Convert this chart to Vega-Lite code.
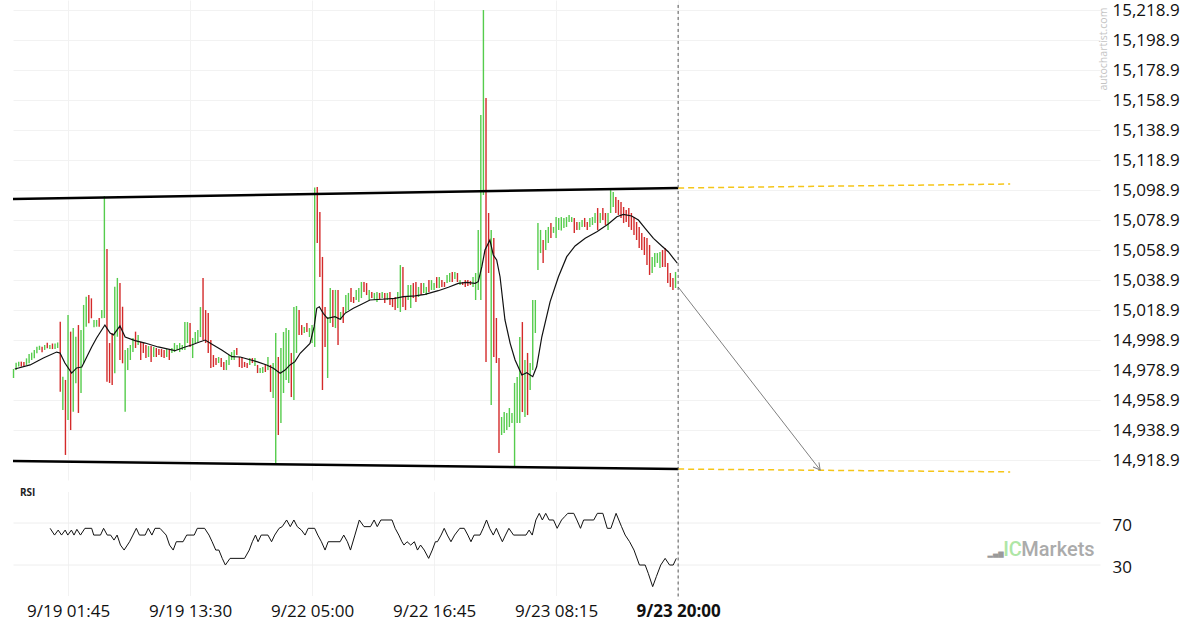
{
 "$schema": "https://vega.github.io/schema/vega-lite/v6.json",
 "padding": {"left": 8, "top": 0, "right": 0, "bottom": 0},
 "background": "white",
 "spacing": 11.5,
 "bounds": "flush",
 "config": {"view": {"stroke": null}, "font": "Open Sans", "axis": {"labelOverlap": false}},
 "datasets": {
  "bars": [
{"i":0,"h":14979.6,"l":14973.6,"d":"u"},{"i":1,"h":14983.8,"l":14978.9,"d":"u"},{"i":2,"h":14984.5,"l":14981.2,"d":"u"},{"i":3,"h":14984.5,"l":14981.2,"d":"d"},{"i":4,"h":14984.3,"l":14981.6,"d":"d"},{"i":5,"h":14986.7,"l":14982.3,"d":"u"},{"i":6,"h":14989.6,"l":14983.4,"d":"u"},{"i":7,"h":14990.5,"l":14985.6,"d":"u"},{"i":8,"h":14992.3,"l":14986.7,"d":"u"},{"i":9,"h":14994.5,"l":14990.1,"d":"u"},
{"i":10,"h":14995.1,"l":14992.3,"d":"u"},{"i":11,"h":14994.5,"l":14990.7,"d":"d"},{"i":12,"h":14995.6,"l":14992.3,"d":"u"},{"i":13,"h":14997.1,"l":14993.4,"d":"d"},{"i":14,"h":14995.6,"l":14992.9,"d":"u"},{"i":15,"h":14996.6,"l":14992.9,"d":"d"},{"i":16,"h":14996.6,"l":14992.9,"d":"u"},{"i":17,"h":14997.3,"l":14993.6,"d":"u"},{"i":18,"h":15011.1,"l":14964.5,"d":"d"},{"i":19,"h":14974.5,"l":14952.3,"d":"u"},
{"i":20,"h":14972.3,"l":14922.3,"d":"d"},{"i":21,"h":15015.6,"l":14945.6,"d":"u"},{"i":22,"h":15004.5,"l":14938.9,"d":"d"},{"i":23,"h":15006.9,"l":14951.1,"d":"u"},{"i":24,"h":15001.1,"l":14970.1,"d":"u"},{"i":25,"h":15008.9,"l":14950.3,"d":"d"},{"i":26,"h":15005.6,"l":14963.6,"d":"u"},{"i":27,"h":15022.3,"l":14983.4,"d":"u"},{"i":28,"h":15027.8,"l":15007.8,"d":"u"},{"i":29,"h":15028.9,"l":15010.1,"d":"d"},
{"i":30,"h":15026.7,"l":15013.4,"d":"d"},{"i":31,"h":15012.3,"l":15007.4,"d":"u"},{"i":32,"h":15012.3,"l":15007.8,"d":"u"},{"i":33,"h":15013.6,"l":15007.8,"d":"d"},{"i":34,"h":15018.9,"l":15013.4,"d":"u"},{"i":35,"h":15094.9,"l":15013.6,"d":"u"},{"i":36,"h":15059.6,"l":14971.1,"d":"d"},{"i":37,"h":14996.9,"l":14970.3,"d":"d"},{"i":38,"h":15003.6,"l":14968.9,"d":"d"},{"i":39,"h":15034.5,"l":14976.7,"d":"u"},
{"i":40,"h":15040.3,"l":15001.1,"d":"u"},{"i":41,"h":15036.9,"l":14985.6,"d":"d"},{"i":42,"h":15021.1,"l":14983.4,"d":"d"},{"i":43,"h":14992.3,"l":14951.1,"d":"u"},{"i":44,"h":14993.6,"l":14978.9,"d":"u"},{"i":45,"h":14995.6,"l":14985.6,"d":"u"},{"i":46,"h":15000.3,"l":14990.9,"d":"u"},{"i":47,"h":15004.5,"l":14993.6,"d":"d"},{"i":48,"h":15002.3,"l":14995.6,"d":"u"},{"i":49,"h":14997.8,"l":14985.6,"d":"d"},
{"i":50,"h":14996.9,"l":14990.3,"d":"d"},{"i":51,"h":14995.6,"l":14986.9,"d":"d"},{"i":52,"h":14994.9,"l":14987.6,"d":"u"},{"i":53,"h":14994.9,"l":14984.3,"d":"d"},{"i":54,"h":14994.3,"l":14987.6,"d":"u"},{"i":55,"h":14993.6,"l":14987.6,"d":"d"},{"i":56,"h":14992.9,"l":14988.9,"d":"d"},{"i":57,"h":14992.9,"l":14987.6,"d":"d"},{"i":58,"h":14992.3,"l":14986.9,"d":"d"},{"i":59,"h":14992.9,"l":14987.6,"d":"u"},
{"i":60,"h":14992.3,"l":14985.6,"d":"d"},{"i":61,"h":14993.6,"l":14990.3,"d":"u"},{"i":62,"h":14996.9,"l":14990.9,"d":"u"},{"i":63,"h":14995.6,"l":14992.3,"d":"u"},{"i":64,"h":14996.9,"l":14990.9,"d":"u"},{"i":65,"h":14995.6,"l":14992.3,"d":"u"},{"i":66,"h":15010.9,"l":14992.3,"d":"u"},{"i":67,"h":15010.9,"l":14996.9,"d":"u"},{"i":68,"h":15010.3,"l":14994.3,"d":"d"},{"i":69,"h":15000.3,"l":14986.9,"d":"u"},
{"i":70,"h":15004.3,"l":14996.9,"d":"u"},{"i":71,"h":15005.6,"l":14997.6,"d":"u"},{"i":72,"h":15020.9,"l":15000.9,"d":"u"},{"i":73,"h":15040.3,"l":14998.9,"d":"d"},{"i":74,"h":15018.9,"l":14996.9,"d":"d"},{"i":75,"h":15016.9,"l":14990.3,"d":"d"},{"i":76,"h":14998.9,"l":14980.3,"d":"d"},{"i":77,"h":14988.9,"l":14980.9,"d":"d"},{"i":78,"h":14986.9,"l":14982.3,"d":"d"},{"i":79,"h":14987.6,"l":14983.6,"d":"u"},
{"i":80,"h":14986.9,"l":14980.9,"d":"d"},{"i":81,"h":14984.3,"l":14978.9,"d":"d"},{"i":82,"h":14985.6,"l":14978.9,"d":"u"},{"i":83,"h":14988.9,"l":14982.3,"d":"u"},{"i":84,"h":14990.9,"l":14985.6,"d":"u"},{"i":85,"h":14992.3,"l":14985.6,"d":"u"},{"i":86,"h":14993.6,"l":14988.9,"d":"d"},{"i":87,"h":14987.6,"l":14980.9,"d":"d"},{"i":88,"h":14987.6,"l":14980.3,"d":"d"},{"i":89,"h":14984.3,"l":14980.9,"d":"d"},
{"i":90,"h":14983.6,"l":14980.3,"d":"d"},{"i":91,"h":14986.9,"l":14982.3,"d":"u"},{"i":92,"h":14986.9,"l":14983.6,"d":"d"},{"i":93,"h":14986.9,"l":14981.6,"d":"u"},{"i":94,"h":14982.3,"l":14976.9,"d":"d"},{"i":95,"h":14980.3,"l":14976.9,"d":"u"},{"i":96,"h":14980.9,"l":14976.9,"d":"u"},{"i":97,"h":14982.3,"l":14977.6,"d":"d"},{"i":98,"h":14987.6,"l":14978.9,"d":"u"},{"i":99,"h":14982.3,"l":14964.3,"d":"d"},
{"i":100,"h":14983.6,"l":14960.3,"d":"u"},{"i":101,"h":15003.6,"l":14915.6,"d":"u"},{"i":102,"h":14987.6,"l":14935.6,"d":"d"},{"i":103,"h":14993.6,"l":14943.6,"d":"u"},{"i":104,"h":15004.3,"l":14963.6,"d":"u"},{"i":105,"h":15006.9,"l":14972.3,"d":"u"},{"i":106,"h":15005.6,"l":14970.3,"d":"u"},{"i":107,"h":14990.3,"l":14960.9,"d":"d"},{"i":108,"h":15020.9,"l":14958.9,"d":"u"},{"i":109,"h":15021.6,"l":14990.3,"d":"u"},
{"i":110,"h":15018.9,"l":15002.3,"d":"d"},{"i":111,"h":15008.9,"l":15002.3,"d":"d"},{"i":112,"h":15007.6,"l":15003.6,"d":"u"},{"i":113,"h":15010.3,"l":15004.3,"d":"d"},{"i":114,"h":15006.9,"l":15000.9,"d":"u"},{"i":115,"h":15008.9,"l":14996.9,"d":"u"},{"i":116,"h":15100.6,"l":14994.3,"d":"u"},{"i":117,"h":15100.9,"l":15063.6,"d":"d"},{"i":118,"h":15084.3,"l":15040.9,"d":"d"},{"i":119,"h":15054.3,"l":14965.6,"d":"d"},
{"i":120,"h":15020.9,"l":14994.3,"d":"d"},{"i":121,"h":15014.3,"l":14973.6,"d":"u"},{"i":122,"h":15033.6,"l":15010.3,"d":"u"},{"i":123,"h":15032.3,"l":15007.6,"d":"d"},{"i":124,"h":15032.3,"l":15006.9,"d":"u"},{"i":125,"h":15032.3,"l":14995.6,"d":"d"},{"i":126,"h":15017.6,"l":15012.3,"d":"u"},{"i":127,"h":15020.9,"l":15010.3,"d":"d"},{"i":128,"h":15028.9,"l":15016.9,"d":"u"},{"i":129,"h":15030.3,"l":15018.9,"d":"u"},
{"i":130,"h":15033.6,"l":15024.3,"d":"d"},{"i":131,"h":15027.6,"l":15023.6,"d":"d"},{"i":132,"h":15032.3,"l":15025.6,"d":"u"},{"i":133,"h":15033.6,"l":15024.3,"d":"u"},{"i":134,"h":15037.6,"l":15026.9,"d":"u"},{"i":135,"h":15037.6,"l":15030.9,"d":"d"},{"i":136,"h":15036.9,"l":15028.9,"d":"d"},{"i":137,"h":15032.3,"l":15025.6,"d":"u"},{"i":138,"h":15030.9,"l":15026.9,"d":"d"},{"i":139,"h":15030.3,"l":15025.6,"d":"u"},
{"i":140,"h":15030.9,"l":15024.3,"d":"u"},{"i":141,"h":15030.3,"l":15026.3,"d":"d"},{"i":142,"h":15030.9,"l":15026.9,"d":"u"},{"i":143,"h":15030.3,"l":15023.6,"d":"d"},{"i":144,"h":15030.3,"l":15025.6,"d":"u"},{"i":145,"h":15030.9,"l":15022.3,"d":"d"},{"i":146,"h":15026.9,"l":15020.9,"d":"d"},{"i":147,"h":15027.6,"l":15018.9,"d":"d"},{"i":148,"h":15030.9,"l":15020.3,"d":"u"},{"i":149,"h":15048.9,"l":15017.6,"d":"u"},
{"i":150,"h":15047.6,"l":15020.9,"d":"d"},{"i":151,"h":15027.6,"l":15018.9,"d":"d"},{"i":152,"h":15035.6,"l":15025.6,"d":"u"},{"i":153,"h":15035.6,"l":15020.3,"d":"u"},{"i":154,"h":15036.9,"l":15026.9,"d":"d"},{"i":155,"h":15037.6,"l":15024.3,"d":"d"},{"i":156,"h":15034.3,"l":15027.6,"d":"u"},{"i":157,"h":15036.9,"l":15028.9,"d":"d"},{"i":158,"h":15036.9,"l":15030.3,"d":"u"},{"i":159,"h":15034.3,"l":15028.9,"d":"u"},
{"i":160,"h":15038.9,"l":15030.9,"d":"d"},{"i":161,"h":15038.9,"l":15032.3,"d":"u"},{"i":162,"h":15036.9,"l":15032.3,"d":"u"},{"i":163,"h":15040.9,"l":15033.6,"d":"d"},{"i":164,"h":15040.9,"l":15033.6,"d":"u"},{"i":165,"h":15038.9,"l":15034.3,"d":"d"},{"i":166,"h":15037.6,"l":15034.3,"d":"d"},{"i":167,"h":15042.3,"l":15036.9,"d":"u"},{"i":168,"h":15043.6,"l":15037.6,"d":"u"},{"i":169,"h":15044.3,"l":15037.6,"d":"d"},
{"i":170,"h":15044.3,"l":15039.6,"d":"u"},{"i":171,"h":15043.6,"l":15037.6,"d":"d"},{"i":172,"h":15038.9,"l":15035.6,"d":"u"},{"i":173,"h":15037.6,"l":15035.6,"d":"d"},{"i":174,"h":15038.9,"l":15034.3,"d":"d"},{"i":175,"h":15038.9,"l":15034.9,"d":"d"},{"i":176,"h":15038.3,"l":15035.6,"d":"d"},{"i":177,"h":15040.9,"l":15034.3,"d":"u"},{"i":178,"h":15043.6,"l":15025.6,"d":"u"},{"i":179,"h":15072.3,"l":15032.3,"d":"u"},
{"i":180,"h":15148.9,"l":15025.6,"d":"u"},{"i":181,"h":15218.9,"l":15095.6,"d":"u"},{"i":182,"h":15160.3,"l":14984.3,"d":"d"},{"i":183,"h":15083.6,"l":15043.6,"d":"d"},{"i":184,"h":15072.3,"l":14955.6,"d":"u"},{"i":185,"h":15066.9,"l":14987.6,"d":"d"},{"i":186,"h":15013.6,"l":14983.6,"d":"d"},{"i":187,"h":14986.9,"l":14923.6,"d":"d"},{"i":188,"h":14947.6,"l":14935.6,"d":"u"},{"i":189,"h":14950.9,"l":14936.9,"d":"u"},
{"i":190,"h":14950.3,"l":14938.9,"d":"u"},{"i":191,"h":14953.6,"l":14940.9,"d":"u"},{"i":192,"h":14950.3,"l":14943.6,"d":"u"},{"i":193,"h":14970.3,"l":14914.3,"d":"u"},{"i":194,"h":14974.3,"l":14943.6,"d":"u"},{"i":195,"h":15000.9,"l":14943.6,"d":"u"},{"i":196,"h":15010.9,"l":14950.9,"d":"d"},{"i":197,"h":14985.6,"l":14947.6,"d":"u"},{"i":198,"h":14990.3,"l":14948.9,"d":"d"},{"i":199,"h":14983.6,"l":14965.6,"d":"u"},
{"i":200,"h":15025.6,"l":14978.9,"d":"u"},{"i":201,"h":15025.6,"l":15003.6,"d":"u"},{"i":202,"h":15076.9,"l":15045.6,"d":"u"},{"i":203,"h":15072.3,"l":15056.9,"d":"u"},{"i":204,"h":15065.6,"l":15050.3,"d":"d"},{"i":205,"h":15072.3,"l":15058.9,"d":"u"},{"i":206,"h":15074.3,"l":15063.6,"d":"u"},{"i":207,"h":15076.9,"l":15066.9,"d":"d"},{"i":208,"h":15074.3,"l":15070.3,"d":"u"},{"i":209,"h":15080.9,"l":15066.9,"d":"u"},
{"i":210,"h":15080.3,"l":15072.3,"d":"u"},{"i":211,"h":15080.9,"l":15071.9,"d":"u"},{"i":212,"h":15080.3,"l":15073.6,"d":"u"},{"i":213,"h":15080.9,"l":15074.3,"d":"u"},{"i":214,"h":15082.3,"l":15077.6,"d":"u"},{"i":215,"h":15080.9,"l":15077.6,"d":"u"},{"i":216,"h":15080.3,"l":15070.3,"d":"d"},{"i":217,"h":15077.6,"l":15072.3,"d":"d"},{"i":218,"h":15077.6,"l":15072.3,"d":"u"},{"i":219,"h":15078.9,"l":15074.3,"d":"u"},
{"i":220,"h":15080.3,"l":15074.3,"d":"d"},{"i":221,"h":15077.6,"l":15072.3,"d":"d"},{"i":222,"h":15080.3,"l":15074.3,"d":"u"},{"i":223,"h":15080.9,"l":15075.6,"d":"u"},{"i":224,"h":15083.6,"l":15076.9,"d":"u"},{"i":225,"h":15086.9,"l":15072.3,"d":"d"},{"i":226,"h":15083.6,"l":15076.9,"d":"u"},{"i":227,"h":15086.9,"l":15078.9,"d":"d"},{"i":228,"h":15083.6,"l":15075.6,"d":"d"},{"i":229,"h":15083.6,"l":15072.3,"d":"u"},
{"i":230,"h":15098.9,"l":15083.6,"d":"u"},{"i":231,"h":15097.6,"l":15087.6,"d":"u"},{"i":232,"h":15094.3,"l":15083.6,"d":"d"},{"i":233,"h":15092.3,"l":15082.3,"d":"d"},{"i":234,"h":15090.9,"l":15080.3,"d":"d"},{"i":235,"h":15087.6,"l":15076.9,"d":"d"},{"i":236,"h":15085.6,"l":15077.6,"d":"d"},{"i":237,"h":15086.9,"l":15074.3,"d":"d"},{"i":238,"h":15083.6,"l":15072.3,"d":"d"},{"i":239,"h":15080.9,"l":15068.9,"d":"d"},
{"i":240,"h":15077.6,"l":15065.6,"d":"d"},{"i":241,"h":15074.3,"l":15060.3,"d":"d"},{"i":242,"h":15070.3,"l":15058.9,"d":"d"},{"i":243,"h":15067.6,"l":15055.6,"d":"d"},{"i":244,"h":15066.9,"l":15048.9,"d":"d"},{"i":245,"h":15062.3,"l":15042.3,"d":"d"},{"i":246,"h":15054.3,"l":15043.6,"d":"u"},{"i":247,"h":15056.9,"l":15047.6,"d":"u"},{"i":248,"h":15056.9,"l":15050.3,"d":"u"},{"i":249,"h":15057.6,"l":15046.9,"d":"u"},
{"i":250,"h":15058.9,"l":15047.6,"d":"d"},{"i":251,"h":15060.3,"l":15047.6,"d":"d"},{"i":252,"h":15050.3,"l":15036.9,"d":"d"},{"i":253,"h":15043.6,"l":15034.3,"d":"d"},{"i":254,"h":15040.3,"l":15032.3,"d":"d"},{"i":255,"h":15044.3,"l":15033.6,"d":"u"}
  ],
  "ma": [
{"i":0.5,"m":14979.6},{"i":6.4,"m":14982.3},{"i":11.5,"m":14986.9},{"i":16.6,"m":14990.9},{"i":17.9,"m":14990.3},{"i":19.8,"m":14983.6},{"i":22.4,"m":14976.9},{"i":24.3,"m":14980.3},{"i":26.3,"m":14980.9},{"i":28.2,"m":14987.6},{"i":30.1,"m":14994.3},{"i":32,"m":15000.3},{"i":35.2,"m":15008.9},{"i":37.2,"m":15003.6},{"i":38.5,"m":15002.3},{"i":41,"m":15008.3},{"i":43,"m":15000.9},
{"i":46.8,"m":14998.5},{"i":50.7,"m":14996.9},{"i":55.7,"m":14994.3},{"i":62.2,"m":14991.8},{"i":66.1,"m":14994.3},{"i":68.6,"m":14995.6},{"i":70.6,"m":14996.9},{"i":73.8,"m":14998.9},{"i":76.3,"m":14996.3},{"i":80.2,"m":14992.3},{"i":84.1,"m":14987.8},{"i":87.3,"m":14987.6},{"i":93.7,"m":14984.5},{"i":97.5,"m":14982.3},{"i":100.1,"m":14980.1},{"i":102.7,"m":14976.7},{"i":104.6,"m":14978.9},{"i":106.5,"m":14982.3},{"i":108.4,"m":14984.5},{"i":110.4,"m":14990.1},{"i":114.2,"m":14996.7},{"i":115.8,"m":15007.8},{"i":116.8,"m":15020.1},{"i":117.8,"m":15021.1},{"i":119.3,"m":15016.7},{"i":120.9,"m":15013.4},{"i":123.8,"m":15014.5},{"i":125.8,"m":15012.7},{"i":127.7,"m":15016.7},{"i":130.9,"m":15020.1},{"i":133.5,"m":15022.3},{"i":137.3,"m":15025.6},{"i":141.8,"m":15026.1},{"i":146.9,"m":15026.7},{"i":150.2,"m":15027.8},{"i":154.7,"m":15028.3},{"i":158.5,"m":15029.4},{"i":163.6,"m":15031.8},{"i":167.5,"m":15034.1},{"i":171.3,"m":15036.7},{"i":174.6,"m":15037.4},{"i":177.8,"m":15036.7},{"i":179,"m":15037.8},{"i":180.4,"m":15047.8},{"i":181.6,"m":15058.9},{"i":183.5,"m":15065.6},{"i":184.8,"m":15055.6},{"i":186.1,"m":15052.3},{"i":187.4,"m":15041.1},{"i":189.3,"m":15012.3},{"i":191.3,"m":14996.7},{"i":193.2,"m":14985.6},{"i":195.8,"m":14975.6},{"i":197.7,"m":14977.1},{"i":200,"m":14974.5},{"i":201.5,"m":14981.1},{"i":203.5,"m":15001.1},{"i":206.7,"m":15024.5},{"i":209.9,"m":15041.1},{"i":213.1,"m":15054.5},{"i":216.3,"m":15061.6},{"i":220.2,"m":15066.7},{"i":224.7,"m":15071.1},{"i":229.1,"m":15076.3},{"i":232.4,"m":15081.1},{"i":234.9,"m":15082.7},{"i":238.1,"m":15081.6},{"i":240.7,"m":15078.9},{"i":243.3,"m":15073.4},{"i":246.5,"m":15066.7},{"i":249.7,"m":15061.6},{"i":252.2,"m":15057.8},{"i":254.2,"m":15053.4},{"i":255.7,"m":15050.1}
  ],
  "rsi": [
{"i":14.1,"r":64.6},{"i":15.8,"r":58.1},{"i":17.2,"r":62.9},{"i":18.5,"r":58.1},{"i":19.9,"r":62.9},{"i":20.9,"r":58.1},{"i":22.3,"r":62.9},{"i":23.3,"r":58.1},{"i":24.4,"r":63.6},{"i":25.8,"r":58.1},{"i":27.5,"r":64.6},{"i":30.1,"r":64.6},{"i":30.9,"r":58.1},{"i":33.5,"r":58.1},{"i":34.7,"r":64.6},{"i":36.1,"r":58.1},{"i":37.4,"r":58.1},{"i":38.7,"r":53.3},{"i":39.9,"r":58.1},{"i":41.2,"r":48.5},{"i":42.6,"r":43.7},{"i":44.7,"r":51.7},{"i":46,"r":58.1},{"i":47.3,"r":64.6},{"i":48.5,"r":58.1},{"i":50.7,"r":58.1},{"i":51.9,"r":64.6},{"i":53.3,"r":58.1},{"i":54.5,"r":64.6},{"i":56.4,"r":64.6},{"i":58.8,"r":58.1},{"i":60.1,"r":48.5},{"i":61.5,"r":43.7},{"i":62.7,"r":51.7},{"i":65.3,"r":51.7},{"i":66.7,"r":58.1},{"i":69.6,"r":58.1},{"i":70.8,"r":64.6},{"i":73.6,"r":64.6},{"i":75.3,"r":58.1},{"i":76.5,"r":51.7},{"i":77.9,"r":43.7},{"i":79.1,"r":43.7},{"i":80.4,"r":35.7},{"i":81.6,"r":29.3},{"i":83.4,"r":35.7},{"i":89,"r":35.7},{"i":90.8,"r":43.7},{"i":92,"r":51.7},{"i":93.2,"r":58.1},{"i":94.2,"r":51.7},{"i":95.4,"r":58.1},{"i":98,"r":58.1},{"i":99.4,"r":51.7},{"i":100.6,"r":58.1},{"i":102.3,"r":64.6},{"i":103.5,"r":66.2},{"i":105.2,"r":72.6},{"i":106.6,"r":66.2},{"i":108,"r":72.6},{"i":109.3,"r":66.2},{"i":110.9,"r":62.9},{"i":112.3,"r":58.1},{"i":113.5,"r":64.6},{"i":116,"r":64.6},{"i":117.2,"r":58.1},{"i":118.6,"r":51.7},{"i":120,"r":43.7},{"i":121.2,"r":51.7},{"i":125.8,"r":51.7},{"i":127.2,"r":58.1},{"i":128.6,"r":51.7},{"i":129.8,"r":43.7},{"i":131.5,"r":58.1},{"i":133.2,"r":72.6},{"i":135,"r":66.2},{"i":137.5,"r":66.2},{"i":138.9,"r":72.6},{"i":140.1,"r":66.2},{"i":141.5,"r":72.6},{"i":145.8,"r":72.6},{"i":147,"r":64.6},{"i":148.4,"r":58.1},{"i":149.6,"r":51.7},{"i":150.4,"r":48.5},{"i":151.6,"r":51.7},{"i":153,"r":48.5},{"i":154.4,"r":51.7},{"i":155.6,"r":43.7},{"i":156.8,"r":48.5},{"i":158.2,"r":43.7},{"i":159.9,"r":35.7},{"i":161.3,"r":43.7},{"i":162.5,"r":51.7},{"i":163.3,"r":51.7},{"i":164.7,"r":58.1},{"i":165.9,"r":64.6},{"i":167.1,"r":58.1},{"i":168.5,"r":51.7},{"i":169.9,"r":58.1},{"i":171.9,"r":64.6},{"i":173.6,"r":64.6},{"i":175,"r":58.1},{"i":176.2,"r":51.7},{"i":177.4,"r":58.1},{"i":179.7,"r":58.1},{"i":180.9,"r":64.6},{"i":182.2,"r":72.6},{"i":183.4,"r":64.6},{"i":184.8,"r":58.1},{"i":186,"r":64.6},{"i":187.1,"r":58.1},{"i":188.3,"r":51.7},{"i":189.5,"r":58.1},{"i":190.8,"r":64.6},{"i":192.6,"r":58.1},{"i":195.5,"r":58.1},{"i":197.4,"r":58.1},{"i":198.6,"r":62.9},{"i":199.8,"r":58.1},{"i":201.2,"r":72.6},{"i":202.5,"r":79},{"i":203.7,"r":72.6},{"i":205,"r":79},{"i":206.3,"r":72.6},{"i":208,"r":72.6},{"i":209.4,"r":64.6},{"i":211.1,"r":72.6},{"i":212.3,"r":75.8},{"i":213.5,"r":79},{"i":215.8,"r":79},{"i":217,"r":72.6},{"i":218.4,"r":64.6},{"i":219.6,"r":72.6},{"i":223.5,"r":72.6},{"i":224.9,"r":79},{"i":227,"r":79},{"i":228.7,"r":64.6},{"i":230.1,"r":64.6},{"i":232.1,"r":79},{"i":234.2,"r":66.2},{"i":235.6,"r":58.1},{"i":237.3,"r":51.7},{"i":239,"r":43.7},{"i":241.1,"r":29.3},{"i":243.3,"r":29.3},{"i":244.5,"r":21.3},{"i":246.2,"r":8.5},{"i":247.6,"r":18.1},{"i":249.3,"r":29.3},{"i":251,"r":35.7},{"i":252.7,"r":29.3},{"i":254.1,"r":29.3},{"i":255.3,"r":35.7}
  ],
  "guides": [
{"k":"c","g":"u","i":-0.2,"p":15092.9},{"k":"c","g":"u","i":256,"p":15100.3},{"k":"c","g":"l","i":-0.2,"p":14918.3},{"k":"c","g":"l","i":256,"p":14912.9},
{"k":"t","g":"u","i":256,"p":15100.3},{"k":"t","g":"u","i":383.9,"p":15102.9},{"k":"t","g":"l","i":256,"p":14912.9},{"k":"t","g":"l","i":383.9,"p":14911.0},
{"k":"a","g":"a","i":256,"p":15034.3},{"k":"a","g":"a","i":310.7,"p":14912.3}
  ]
 },
 "vconcat": [
  {
   "width": 1087,
   "height": 480,
   "layer": [
    {
     "data": {"name": "bars"},
     "mark": {"type": "rule", "strokeWidth": 1.4},
     "encoding": {
      "x": {"field": "i", "type": "quantitative", "title": null,
            "scale": {"domain": [-0.2, 418.5], "nice": false, "zero": false},
            "axis": {"grid": true, "labels": false, "ticks": false, "domain": false, "values": [21, 68, 115, 162, 209, 256], "tickCount": 50, "gridColor": "#f2f2f2", "title": null}},
      "y": {"field": "l", "type": "quantitative", "title": null,
            "scale": {"domain": [14905.6, 15225.6], "nice": false, "zero": false},
            "axis": {"orient": "right", "values": [14918.9, 14938.9, 14958.9, 14978.9, 14998.9, 15018.9, 15038.9, 15058.9, 15078.9, 15098.9, 15118.9, 15138.9, 15158.9, 15178.9, 15198.9, 15218.9],
                     "tickCount": 40, "format": ",.1f", "grid": true, "gridColor": "#f2f2f2", "ticks": false, "domain": false, "labelPadding": 12,
                     "labelFont": "Open Sans", "labelFontSize": 17, "labelColor": "#111", "title": null, "labelOverlap": false, "labelBound": false}},
      "y2": {"field": "h"},
      "color": {"field": "d", "type": "nominal", "scale": {"domain": ["u", "d"], "range": ["#55cc4c", "#d42a2a"]}, "legend": null}
     }
    },
    {
     "data": {"name": "ma"},
     "mark": {"type": "line", "color": "#111", "strokeWidth": 1.2},
     "encoding": {
      "x": {"field": "i", "type": "quantitative", "title": null},
      "y": {"field": "m", "type": "quantitative", "title": null}
     }
    },
    {
     "data": {"name": "guides"},
     "transform": [{"filter": "datum.k == 'c'"}],
     "mark": {"type": "line", "color": "#000", "strokeWidth": 2.5},
     "encoding": {
      "x": {"field": "i", "type": "quantitative", "title": null},
      "y": {"field": "p", "type": "quantitative", "title": null},
      "detail": {"field": "g"}
     }
    },
    {
     "data": {"name": "guides"},
     "transform": [{"filter": "datum.k == 't'"}],
     "mark": {"type": "line", "color": "#f5c518", "strokeWidth": 1.5, "strokeDash": [6, 4]},
     "encoding": {
      "x": {"field": "i", "type": "quantitative", "title": null},
      "y": {"field": "p", "type": "quantitative", "title": null},
      "detail": {"field": "g"}
     }
    },
    {
     "data": {"name": "guides"},
     "transform": [{"filter": "datum.k == 'a'"}],
     "mark": {"type": "line", "color": "#808080", "strokeWidth": 1},
     "encoding": {
      "x": {"field": "i", "type": "quantitative", "title": null},
      "y": {"field": "p", "type": "quantitative", "title": null}
     }
    },
    {
     "data": {"values": [{"i": 310.7, "p": 14912.3}]},
     "mark": {"type": "point", "shape": "M -0.55 1 L 0 0 L 0.55 1", "filled": false, "stroke": "#808080", "strokeWidth": 1, "size": 180, "angle": 142, "opacity": 1},
     "encoding": {
      "x": {"field": "i", "type": "quantitative", "title": null},
      "y": {"field": "p", "type": "quantitative", "title": null}
     }
    },
    {
     "data": {"values": [{}]},
     "mark": {"type": "rule", "color": "#555", "strokeWidth": 1, "strokeDash": [3, 3]},
     "encoding": {"x": {"datum": 256}, "y": {"datum": 15222.3}, "y2": {"datum": 14897.9}}
    },
    {
     "data": {"values": [{"t": "autochartist.com"}]},
     "mark": {"type": "text", "angle": 270, "fontSize": 10.5, "color": "#c4c4c4", "font": "Open Sans", "align": "center", "baseline": "middle"},
     "encoding": {"x": {"datum": 420.1}, "y": {"datum": 15192.9}, "text": {"field": "t"}}
    }
   ]
  },
  {
   "width": 1087,
   "height": 104,
   "layer": [
    {
     "data": {"name": "rsi"},
     "mark": {"type": "line", "color": "#111", "strokeWidth": 1},
     "encoding": {
      "x": {"field": "i", "type": "quantitative", "title": null,
            "scale": {"domain": [-0.2, 418.5], "nice": false, "zero": false},
            "axis": {"grid": true, "gridColor": "#f2f2f2", "ticks": false, "domain": false, "values": [21, 68, 115, 162, 209, 256], "tickCount": 50,
                     "labelExpr": "datum.value == 21 ? '9/19 01:45' : datum.value == 68 ? '9/19 13:30' : datum.value == 115 ? '9/22 05:00' : datum.value == 162 ? '9/22 16:45' : datum.value == 209 ? '9/23 08:15' : '9/23 20:00'",
                     "labelFont": "Open Sans", "labelFontSize": 17, "labelColor": "#111", "labelPadding": 8, "labelFlush": false, "labelOverlap": false, "labelBound": false,
                     "labelFontWeight": {"condition": {"test": "datum.value == 256", "value": "bold"}, "value": "normal"}, "title": null}},
      "y": {"field": "r", "type": "quantitative", "title": null,
            "scale": {"domain": [0, 100], "nice": false, "zero": false},
            "axis": {"orient": "right", "values": [30, 70], "grid": true, "gridColor": "#eeeeee", "ticks": false, "domain": false, "labelPadding": 12,
                     "labelFont": "Open Sans", "labelFontSize": 17, "labelColor": "#111", "title": null, "labelOffset": 3}}
     }
    },
    {
     "data": {"values": [{}]},
     "mark": {"type": "rule", "color": "#555", "strokeWidth": 1, "strokeDash": [3, 3]},
     "encoding": {"x": {"datum": 256}, "y": {"datum": 100}, "y2": {"datum": -4}}
    },
    {
     "data": {"values": [{"t": "RSI"}]},
     "mark": {"type": "text", "fontSize": 10, "fontWeight": "bold", "font": "Open Sans", "color": "#222", "align": "left", "baseline": "middle"},
     "encoding": {"x": {"datum": 2.5}, "y": {"datum": 98.5}, "text": {"field": "t"}}
    },
    {
     "data": {"values": [{"t": "▂▄▆"}]},
     "mark": {"type": "text", "fontSize": 7, "font": "DejaVu Sans", "color": "#9a9a9a", "align": "left", "baseline": "alphabetic"},
     "encoding": {"x": {"datum": 375.2}, "y": {"datum": 38}, "text": {"field": "t"}}
    },
    {
     "data": {"values": [{"t": "IC"}]},
     "mark": {"type": "text", "fontSize": 20, "fontWeight": 500, "font": "Roboto", "color": "#aee6a6", "align": "left", "baseline": "middle"},
     "encoding": {"x": {"datum": 381.2}, "y": {"datum": 43.7}, "text": {"field": "t"}}
    },
    {
     "data": {"values": [{"t": "Markets"}]},
     "mark": {"type": "text", "fontSize": 20, "fontWeight": 500, "font": "Roboto", "color": "#ababab", "align": "left", "baseline": "middle"},
     "encoding": {"x": {"datum": 388.2}, "y": {"datum": 43.7}, "text": {"field": "t"}}
    }
   ]
  }
 ]
}
